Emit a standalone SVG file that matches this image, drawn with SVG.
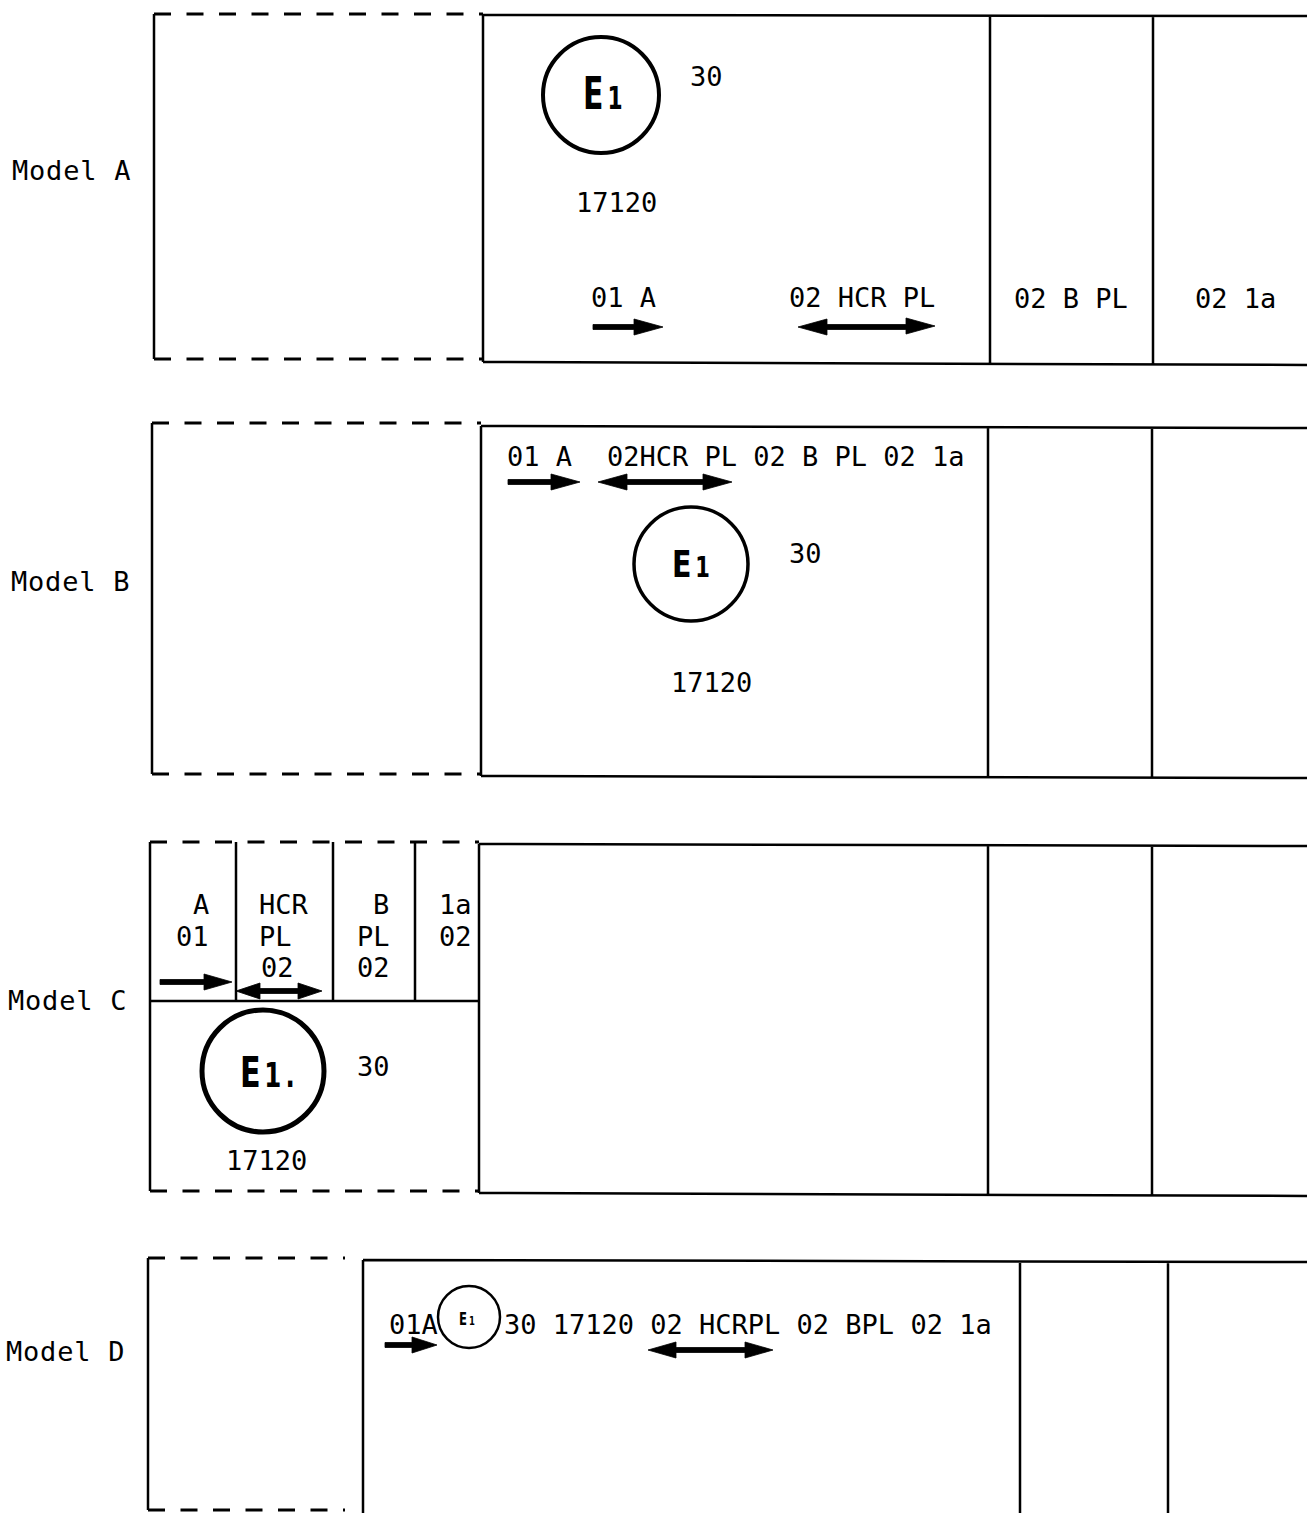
<svg xmlns="http://www.w3.org/2000/svg" width="1307" height="1513" viewBox="0 0 1307 1513">
<style>
.bg{fill:#fff}
.solid{stroke:#000;stroke-width:2.5;fill:none}
.dash{stroke:#000;stroke-width:3.2;fill:none;stroke-dasharray:17 15.5}
.t{font-family:"DejaVu Sans Mono","Liberation Mono",monospace;font-size:27px;fill:#000}
.lbl{letter-spacing:0.8px}
.e{font-family:"DejaVu Sans","Liberation Sans",sans-serif;font-weight:bold;fill:#000}
.circ{stroke:#000;fill:none}
.arr{fill:#000;stroke:#000;stroke-width:0.8;stroke-linejoin:round}
</style>
<rect class="bg" x="0" y="0" width="1307" height="1513"/>

<!-- Model A -->
<g id="modelA">
  <text class="t lbl" x="12" y="180">Model A</text>
  <g id="modelA-frame">
    <path class="dash" d="M154,14 H483"/>
    <path class="dash" d="M154,359 H483"/>
    <path class="solid" d="M154,14 V359"/>
    <path class="solid" d="M483,15 L1307,16 M483,362 L1307,365 M483,15 V362 M990,15 V363 M1153,15 V364"/>
  </g>
  <g id="modelA-E1">
    <circle class="circ" cx="601" cy="95" r="58" stroke-width="4"/>
    <text class="e" transform="translate(583,109) scale(0.68,1)"><tspan font-size="44">E</tspan><tspan font-size="32" dx="6">1</tspan></text>
  </g>
  <text class="t" x="690" y="86">30</text>
  <text class="t" x="576" y="212">17120</text>
  <text class="t" x="591" y="307">01 A</text>
  <text class="t" x="789" y="307">02 HCR PL</text>
  <text class="t" x="1014" y="308">02 B PL</text>
  <text class="t" x="1195" y="308">02 1a</text>
</g>

<!-- Model B -->
<g id="modelB">
  <text class="t lbl" x="11" y="591">Model B</text>
  <g id="modelB-frame">
    <path class="dash" d="M152,423 H481"/>
    <path class="dash" d="M152,774 H481"/>
    <path class="solid" d="M152,423 V774"/>
    <path class="solid" d="M481,426 L1307,428 M481,776 L1307,778 M481,426 V776 M988,427 V777 M1152,427 V778"/>
  </g>
  <text class="t" x="507" y="466">01 A</text>
  <text class="t" x="607" y="466">02HCR PL 02 B PL 02 1a</text>
  <g id="modelB-E1">
    <circle class="circ" cx="691" cy="564" r="57" stroke-width="3.5"/>
    <text class="e" font-weight="normal" transform="translate(672,577) scale(0.75,1)"><tspan font-size="38">E</tspan><tspan font-size="28" dx="5">1</tspan></text>
  </g>
  <text class="t" x="789" y="563">30</text>
  <text class="t" x="671" y="692">17120</text>
</g>

<!-- Model C -->
<g id="modelC">
  <text class="t lbl" x="8" y="1010">Model C</text>
  <g id="modelC-frame">
    <path class="dash" d="M150,842 H479"/>
    <path class="dash" d="M150,1191 H479"/>
    <path class="solid" d="M150,842 V1191 M150,1001 H479 M236,842 V1001 M333,842 V1001 M415,842 V1001"/>
    <path class="solid" d="M479,844 L1307,846 M479,1193 L1307,1196 M479,844 V1193 M988,845 V1194 M1152,845 V1195"/>
  </g>
  <g id="modelC-cells">
    <text class="t" x="193" y="914">A</text>
    <text class="t" x="176" y="946">01</text>
    <text class="t" x="259" y="914">HCR</text>
    <text class="t" x="259" y="946">PL</text>
    <text class="t" x="261" y="977">02</text>
    <text class="t" x="373" y="914">B</text>
    <text class="t" x="357" y="946">PL</text>
    <text class="t" x="357" y="977">02</text>
    <text class="t" x="439" y="914">1a</text>
    <text class="t" x="439" y="946">02</text>
  </g>
  <g id="modelC-E1">
    <circle class="circ" cx="263" cy="1071" r="61" stroke-width="5"/>
    <text class="e" transform="translate(240,1087) scale(0.72,1)"><tspan font-size="42">E</tspan><tspan font-size="34" dx="5">1</tspan><tspan font-size="34" dx="6">.</tspan></text>
  </g>
  <text class="t" x="357" y="1076">30</text>
  <text class="t" x="226" y="1170">17120</text>
</g>

<!-- Model D -->
<g id="modelD">
  <text class="t lbl" x="6" y="1361">Model D</text>
  <g id="modelD-frame">
    <path class="dash" d="M148,1258 H345"/>
    <path class="dash" d="M148,1510 H345"/>
    <path class="solid" d="M148,1258 V1510"/>
    <path class="solid" d="M363,1260 L1307,1262 M363,1260 V1513 M1020,1261 V1513 M1168,1261 V1513"/>
  </g>
  <text class="t" x="389" y="1334">01A</text>
  <g id="modelD-E1">
    <circle class="circ" cx="469" cy="1317" r="31" stroke-width="2.5"/>
    <text class="e" font-weight="normal" transform="translate(459,1325) scale(0.65,1)"><tspan font-size="18">E</tspan><tspan font-size="13" dx="3">1</tspan></text>
  </g>
  <text class="t" x="504" y="1334">30 17120 02 HCRPL 02 BPL 02 1a</text>
</g>

<!-- Arrows -->
<g id="connectors">
  <path class="arr" d="M593,324.5 H634 V319 L663,327 L634,335 V329.5 H593 Z"/>
  <path class="arr" d="M798,327 L827,319 V324.5 H906 V318 L935,326 L906,334 V329.5 H827 V335 Z"/>
  <path class="arr" d="M508,479.5 H551 V474 L580,482 L551,490 V484.5 H508 Z"/>
  <path class="arr" d="M598,482 L627,474 V479.5 H703 V474 L732,482 L703,490 V484.5 H627 V490 Z"/>
  <path class="arr" d="M160,979.5 H204 V974 L232,982 L204,990 V984.5 H160 Z"/>
  <path class="arr" d="M236,991 L260,983 V988.5 H298 V983 L322,991 L298,999 V993.5 H260 V999 Z"/>
  <path class="arr" d="M385,1342.5 H412 V1337 L437,1345 L412,1353 V1347.5 H385 Z"/>
  <path class="arr" d="M648,1350 L676,1342 V1347.5 H745 V1342 L773,1350 L745,1358 V1352.5 H676 V1358 Z"/>
</g>
</svg>
